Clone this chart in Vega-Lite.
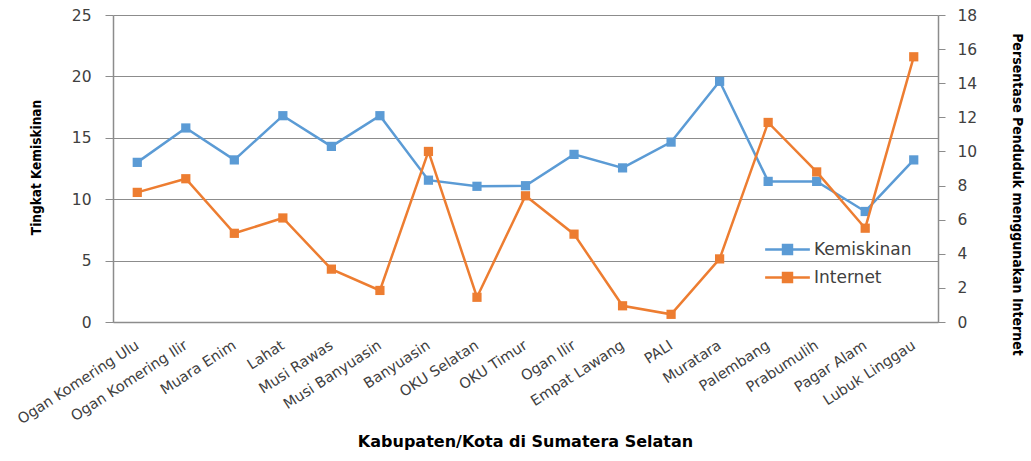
{
  "$schema": "https://vega.github.io/schema/vega-lite/v6.json",
  "width": 825,
  "height": 307,
  "autosize": {"type": "none"},
  "padding": {"left": 113, "top": 15, "right": 93, "bottom": 139},
  "background": "white",
  "config": {
    "view": {"stroke": null},
    "font": "DejaVu Sans"
  },
  "data": {
    "values": [
      {"region": "Ogan Komering Ulu", "Kemiskinan": 13.0, "Internet": 7.6},
      {"region": "Ogan Komering Ilir", "Kemiskinan": 15.8, "Internet": 8.4},
      {"region": "Muara Enim", "Kemiskinan": 13.2, "Internet": 5.2},
      {"region": "Lahat", "Kemiskinan": 16.8, "Internet": 6.1},
      {"region": "Musi Rawas", "Kemiskinan": 14.3, "Internet": 3.1},
      {"region": "Musi Banyuasin", "Kemiskinan": 16.8, "Internet": 1.85},
      {"region": "Banyuasin", "Kemiskinan": 11.55, "Internet": 10.0},
      {"region": "OKU Selatan", "Kemiskinan": 11.05, "Internet": 1.45},
      {"region": "OKU Timur", "Kemiskinan": 11.1, "Internet": 7.4},
      {"region": "Ogan Ilir", "Kemiskinan": 13.65, "Internet": 5.15},
      {"region": "Empat Lawang", "Kemiskinan": 12.55, "Internet": 0.95},
      {"region": "PALI", "Kemiskinan": 14.65, "Internet": 0.45},
      {"region": "Muratara", "Kemiskinan": 19.6, "Internet": 3.7},
      {"region": "Palembang", "Kemiskinan": 11.45, "Internet": 11.7},
      {"region": "Prabumulih", "Kemiskinan": 11.45, "Internet": 8.8},
      {"region": "Pagar Alam", "Kemiskinan": 9.0, "Internet": 5.5},
      {"region": "Lubuk Linggau", "Kemiskinan": 13.2, "Internet": 15.55}
    ]
  },
  "encoding": {
    "x": {
      "field": "region",
      "type": "nominal",
      "sort": null,
      "scale": {"type": "point", "padding": 0.5},
      "axis": {
        "title": "Kabupaten/Kota di Sumatera Selatan",
        "titleFont": "DejaVu Sans",
        "titleFontSize": 16,
        "titleFontWeight": "bold",
        "titleColor": "#000000",
        "titleX": 412,
        "titleY": 119,
        "titleBaseline": "middle",
        "titleAlign": "center",
        "labelAngle": -33,
        "labelAlign": "right",
        "labelBaseline": "middle",
        "labelFontSize": 14.5,
        "labelColor": "#404040",
        "labelPadding": 22,
        "ticks": false,
        "domainColor": "#8c8c8c",
        "domainWidth": 1.5,
        "grid": false
      }
    }
  },
  "layer": [
    {
      "mark": {"type": "line", "strokeWidth": 2.5, "point": {"shape": "square", "size": 85, "filled": true}},
      "encoding": {
        "y": {
          "field": "Kemiskinan",
          "type": "quantitative",
          "scale": {"domain": [0, 25], "nice": false},
          "axis": {
            "title": "Tingkat Kemiskinan",
            "titleFont": "DejaVu Sans Condensed",
            "titleFontSize": 13.5,
            "titleFontWeight": "bold",
            "titleColor": "#000000",
            "titleX": -77,
            "titleY": 152,
            "titleAngle": -90,
            "titleBaseline": "middle",
            "titleAlign": "center",
            "values": [0, 5, 10, 15, 20, 25],
            "labelFontSize": 15.5,
            "labelColor": "#404040",
            "labelPadding": 14,
            "tickSize": 8,
            "tickColor": "#8c8c8c",
            "domainColor": "#8c8c8c",
            "domainWidth": 1.5,
            "grid": true,
            "gridColor": "#8c8c8c",
            "gridWidth": 1
          }
        },
        "color": {"datum": "Kemiskinan"}
      }
    },
    {
      "mark": {"type": "line", "strokeWidth": 2.5, "point": {"shape": "square", "size": 85, "filled": true}},
      "encoding": {
        "y": {
          "field": "Internet",
          "type": "quantitative",
          "scale": {"domain": [0, 18], "nice": false},
          "axis": {
            "orient": "right",
            "title": "Persentase Penduduk menggunakan Internet",
            "titleFont": "DejaVu Sans Condensed",
            "titleFontSize": 14,
            "titleFontWeight": "bold",
            "titleColor": "#000000",
            "titleAngle": 90,
            "titleX": 78,
            "titleY": 179,
            "titleBaseline": "middle",
            "titleAlign": "center",
            "values": [0, 2, 4, 6, 8, 10, 12, 14, 16, 18],
            "labelFontSize": 15.5,
            "labelColor": "#404040",
            "labelPadding": 12,
            "tickSize": 7,
            "tickColor": "#8c8c8c",
            "domainColor": "#8c8c8c",
            "domainWidth": 1.5,
            "grid": false
          }
        },
        "color": {
          "datum": "Internet",
          "scale": {"domain": ["Kemiskinan", "Internet"], "range": ["#5B9BD5", "#ED7D31"]},
          "legend": {
            "title": null,
            "orient": "none",
            "legendX": 662,
            "legendY": 222,
            "symbolType": "M-2,0H2M-0.4,-0.4H0.4V0.4H-0.4Z",
            "symbolSize": 500,
            "symbolStrokeWidth": 2.5,
            "labelFont": "DejaVu Sans",
            "labelFontSize": 17,
            "labelColor": "#404040",
            "labelOffset": 14,
            "rowPadding": 6,
            "encode": {
              "symbols": {"update": {"fill": {"scale": "color", "field": "value"}, "stroke": {"scale": "color", "field": "value"}, "fillOpacity": {"value": 1}}}
            }
          }
        }
      }
    }
  ],
  "resolve": {"scale": {"y": "independent"}}
}
